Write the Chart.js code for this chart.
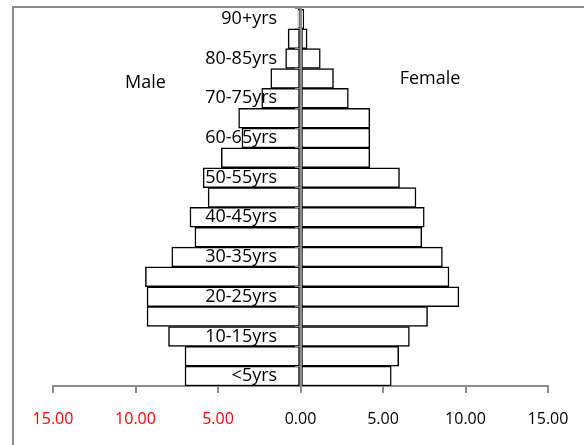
<!DOCTYPE html>
<html>
<head>
<meta charset="utf-8">
<script src="https://cdn.jsdelivr.net/npm/chart.js@4/dist/chart.umd.min.js"></script>
<style>
  body { margin: 0; background: #fff; }
  #wrap { position: relative; width: 584px; height: 445px; overflow: hidden; }
  #frame { position: absolute; left: 12px; top: 6px; width: 640px; height: 500px; border: 2px solid #8c8c8c; }
  canvas { position: absolute; left: 0; top: 0; }
</style>
</head>
<body>
<div id="wrap">
  <div id="frame"></div>
  <canvas id="pyramid" width="584" height="445"></canvas>
</div>
<script>
// age groups, youngest first
const ageGroups = ["<5yrs", "5-10yrs", "10-15yrs", "15-20yrs", "20-25yrs", "25-30yrs", "30-35yrs",
  "35-40yrs", "40-45yrs", "45-50yrs", "50-55yrs", "55-60yrs", "60-65yrs", "65-70yrs",
  "70-75yrs", "75-80yrs", "80-85yrs", "85-90yrs", "90+yrs"];
// percentages (male plotted to the left)
const maleValues = [7.0, 7.0, 8.0, 9.3, 9.3, 9.4, 7.8, 6.4, 6.7, 5.6, 5.9, 4.8, 3.55, 3.75, 2.35, 1.8, 0.9, 0.75, 0.15];
const femaleValues = [5.5, 5.95, 6.6, 7.7, 9.6, 9.0, 8.6, 7.35, 7.5, 7.0, 6.0, 4.2, 4.2, 4.2, 2.9, 2.0, 1.2, 0.4, 0.2];
const xTicks = [-15, -10, -5, 0, 5, 10, 15];

const font = "'Open Sans', sans-serif";
const barStyle = {
  backgroundColor: "#fff",
  borderColor: "#000",
  borderWidth: 1.5,
  borderSkipped: false,
  barPercentage: 1,
  categoryPercentage: 1
};

// Male / Female captions
const sideLabels = {
  id: "sideLabels",
  afterDraw(chart) {
    const c = chart.ctx;
    const x = chart.scales.x;
    c.save();
    c.font = "18px " + font;
    c.fillStyle = "#000";
    c.textAlign = "center";
    c.textBaseline = "middle";
    c.fillText("Male", x.getPixelForValue(-9.4), 83);
    c.fillText("Female", x.getPixelForValue(7.85), 79);
    c.restore();
  }
};

new Chart(document.getElementById("pyramid"), {
  type: "bar",
  data: {
    labels: ageGroups,
    datasets: [
      { label: "Male", data: maleValues.map(v => -v), ...barStyle },
      { label: "Female", data: femaleValues, ...barStyle }
    ]
  },
  options: {
    responsive: false,
    animation: false,
    indexAxis: "y",
    layout: { padding: { left: 53, right: 36, top: 9, bottom: 0 } },
    plugins: { legend: { display: false }, tooltip: { enabled: false } },
    scales: {
      x: {
        stacked: true,
        min: -15,
        max: 15,
        afterBuildTicks: s => { s.ticks = xTicks.map(v => ({ value: v })); },
        grid: { drawOnChartArea: false, color: "#8c8c8c", lineWidth: 2, tickLength: 7 },
        border: { color: "#8c8c8c", width: 2 },
        ticks: {
          padding: 3,
          // tall line height pushes the labels down, as in the original
          font: { family: font, size: 16, lineHeight: "46px" },
          color: ctx => ctx.tick.value < 0 ? "#ff0000" : "#000",
          callback: v => Math.abs(v).toFixed(2)
        }
      },
      y: {
        stacked: true,
        reverse: true,
        position: { x: 0 },
        grid: { drawOnChartArea: false, color: "#8c8c8c", lineWidth: 1, tickLength: 5, z: 1 },
        border: { color: "#8c8c8c", width: 2, z: 1 },
        ticks: {
          z: 1,
          padding: 0,
          autoSkip: false,
          font: { family: font, size: 18, lineHeight: 1 },
          color: "#000",
          // the axis sits inside the plot, so keep the labels clear of it with trailing spaces
          callback: (v, i) => i % 2 === 0 ? ageGroups[i] + "     " : ""
        }
      }
    }
  },
  plugins: [sideLabels]
});
</script>
</body>
</html>
